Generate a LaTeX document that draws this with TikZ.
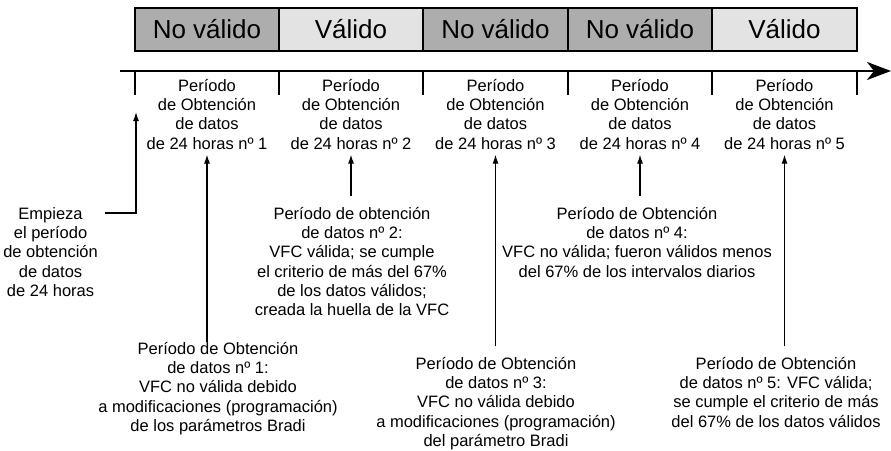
\documentclass[tikz,border=0pt]{standalone}
\usepackage{fontspec}
\setmainfont{Liberation Sans}
\usetikzlibrary{arrows.meta, positioning, calc}
\definecolor{novalgray}{RGB}{173, 173, 173}
\definecolor{valgray}{RGB}{227, 227, 227}

\begin{document}
\begin{tikzpicture}[x=1pt, y=-1pt,
    bar/.style={draw, line width=2pt, minimum height=43pt, inner sep=0pt, font=\fontsize{26}{30}\selectfont},
    period/.style={align=center, inner sep=0pt, font=\fontsize{16.5}{19.3}\selectfont},
    note/.style={align=center, inner sep=0pt, font=\fontsize{16.5}{19.3}\selectfont},
    tick/.style={line width=2.2pt},
    pointer/.style={line width=1.2pt, -{Latex[length=9pt, width=6pt]}}]
    \useasboundingbox (0,0) rectangle (891,450);

    % Validity bar
    \node[bar, fill=novalgray, minimum width=144pt] (b1) at (207,29.5) {No válido};
    \node[bar, fill=valgray, minimum width=144pt] (b2) at (351,29.5) {Válido};
    \node[bar, fill=novalgray, minimum width=145pt] (b3) at (495.5,29.5) {No válido};
    \node[bar, fill=novalgray, minimum width=144pt] (b4) at (640,29.5) {No válido};
    \node[bar, fill=valgray, minimum width=145pt] (b5) at (784.5,29.5) {Válido};

    % Time line with ticks
    \coordinate (tl0) at (120,71);
    \coordinate (tl1) at (891,71);
    \draw[line width=2.6pt, -{Stealth[length=24pt, width=18pt, inset=7pt]}] (tl0) -- (tl1);
    \draw[tick] (135,71) -- (135,95);
    \draw[tick] (279,71) -- (279,95);
    \draw[tick] (423,71) -- (423,95);
    \draw[tick] (568,71) -- (568,95);
    \draw[tick] (712,71) -- (712,95);
    \draw[tick] (857,71) -- (857,95);

    % Periods
    \node[period, anchor=north] (p1) at (207,79) {Período\\de Obtención\\de datos\\de 24 horas nº 1};
    \node[period, anchor=north] (p2) at (351,79) {Período\\de Obtención\\de datos\\de 24 horas nº 2};
    \node[period, anchor=north] (p3) at (495.5,79) {Período\\de Obtención\\de datos\\de 24 horas nº 3};
    \node[period, anchor=north] (p4) at (640,79) {Período\\de Obtención\\de datos\\de 24 horas nº 4};
    \node[period, anchor=north] (p5) at (784.5,79) {Período\\de Obtención\\de datos\\de 24 horas nº 5};

    % Notes
    \node[note, anchor=north east] (start) at (98,207) {Empieza\\el período\\de obtención\\de datos\\de 24 horas};
    \node[note, anchor=north] (n1) at (218,342) {Período de Obtención\\de datos nº 1:\\VFC no válida debido\\a modificaciones (programación)\\de los parámetros Bradi};
    \node[note, anchor=north] (n2) at (352,207) {Período de obtención\\de datos nº 2:\\VFC válida; se cumple\\el criterio de más del 67\%\\de los datos válidos;\\creada la huella de la VFC};
    \node[note, anchor=north] (n3) at (496,357) {Período de Obtención\\de datos nº 3:\\VFC no válida debido\\a modificaciones (programación)\\del parámetro Bradi};
    \node[note, anchor=north] (n4) at (637,207) {Período de Obtención\\de datos nº 4:\\VFC no válida; fueron válidos menos\\del 67\% de los intervalos diarios};
    \node[note, anchor=north] (n5) at (776,357) {Período de Obtención\\de datos nº 5: VFC válida;\\se cumple el criterio de más\\del 67\% de los datos válidos};

    % Pointers
    \coordinate (starttip) at (136,112);
    \draw[pointer] ($(start.north east)+(7,6)$) -| (starttip);
    \draw[pointer] (n1.north -| p1.south) -- ($(p1.south)+(0,5)$);
    \draw[pointer] ($(n2.north -| p2.south)+(0,-11)$) -- ($(p2.south)+(0,5)$);
    \draw[pointer] ($(n3.north -| p3.south)+(0,-11)$) -- ($(p3.south)+(0,5)$);
    \draw[pointer] ($(n4.north -| p4.south)+(0,-11)$) -- ($(p4.south)+(0,5)$);
    \draw[pointer] ($(n5.north -| p5.south)+(0,-11)$) -- ($(p5.south)+(0,5)$);
\end{tikzpicture}
\end{document}
